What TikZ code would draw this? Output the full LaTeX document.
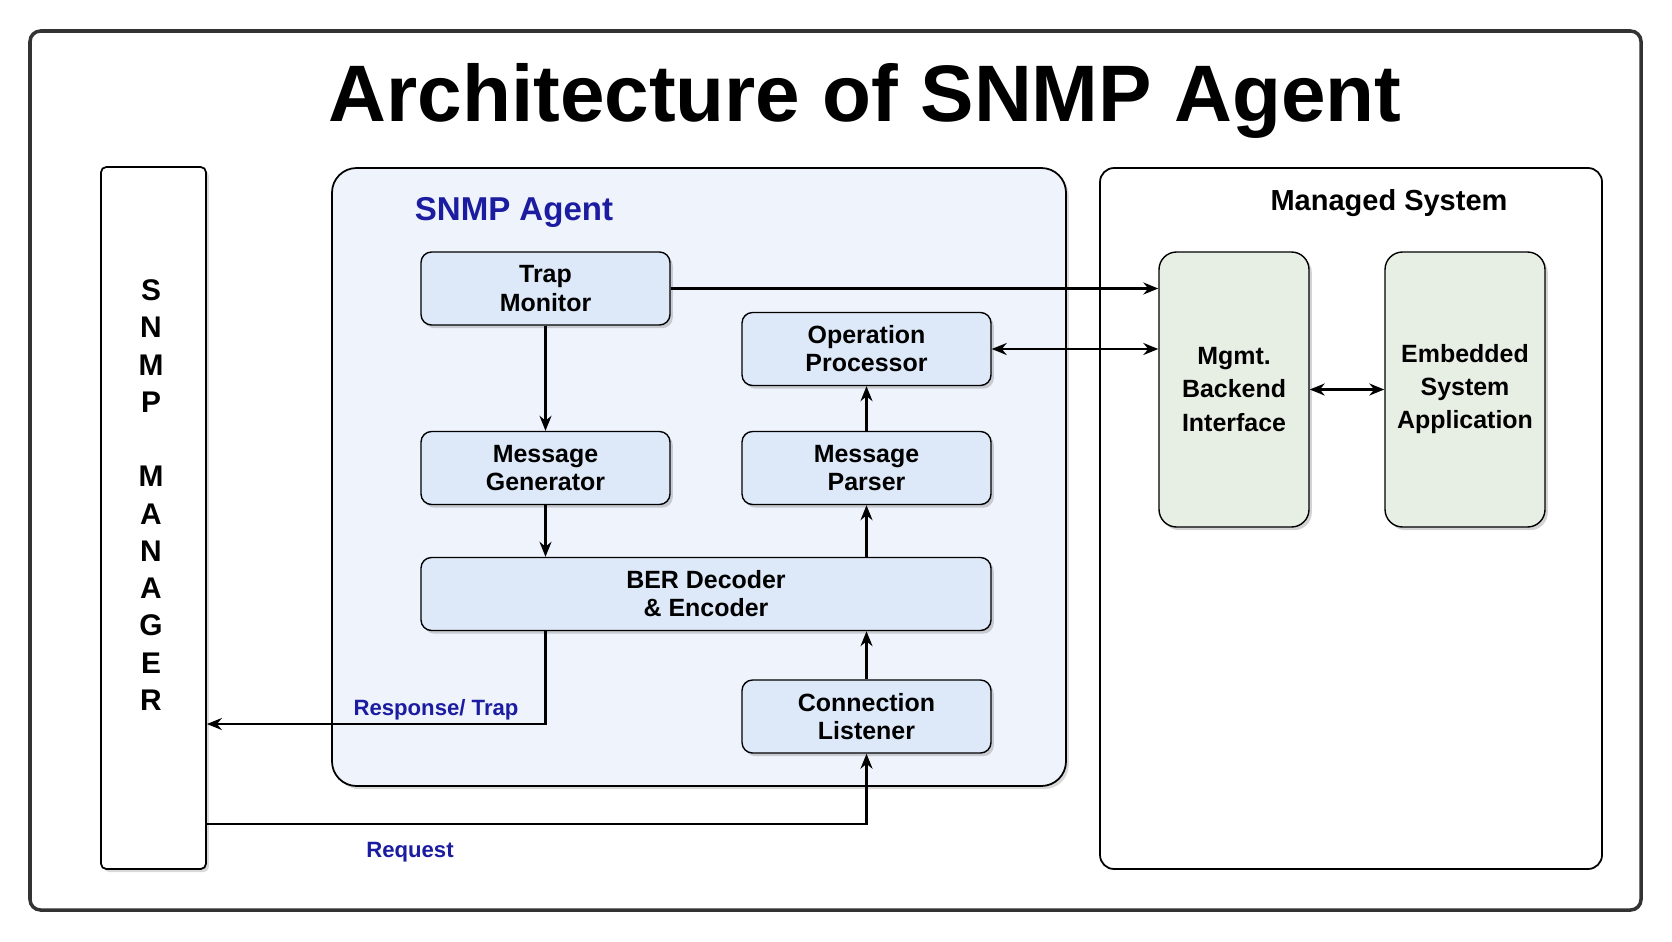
\documentclass[tikz,border=0pt]{standalone}
\usepackage{fontspec}
\setmainfont{Liberation Sans}
\usepackage{xcolor}
\usetikzlibrary{arrows.meta,positioning,shadows}

\definecolor{agentbg}{HTML}{EEF3FC}
\definecolor{boxbg}{HTML}{DDE9F9}
\definecolor{sysbg}{HTML}{E7EFE5}
\definecolor{labelblue}{HTML}{1C1CA0}

\begin{document}
\begin{tikzpicture}[
  box/.style={rectangle, draw, rounded corners=3pt, fill=boxbg, minimum width=2.49cm, minimum height=0.73cm, align=center,
    font=\fontsize{7.1}{8}\selectfont\bfseries, drop shadow={shadow xshift=0.8pt, shadow yshift=-0.9pt, opacity=0.35}},
  sysbox/.style={rectangle, draw, rounded corners=5pt, fill=sysbg, minimum height=2.75cm, align=center,
    font=\fontsize{7.1}{9.4}\selectfont\bfseries, drop shadow={shadow xshift=0.8pt, shadow yshift=-0.9pt, opacity=0.35}},
  group/.style={rectangle, draw, line width=0.5pt},
  flowlabel/.style={text=labelblue, font=\fontsize{6.3}{7}\selectfont\bfseries},
  arrow/.style={-{Stealth[length=1.5mm, width=1.2mm]}, line width=0.6pt},
  biarrow/.style={{Stealth[length=1.5mm, width=1.2mm]}-{Stealth[length=1.5mm, width=1.2mm]}, line width=0.6pt}
]
\useasboundingbox (0,0) rectangle (16.72,-9.41);

% Frame and title
\node[rectangle, draw=black!80, line width=1pt, rounded corners=3pt, minimum width=16.11cm, minimum height=8.79cm] (frame) at (8.355,-4.705) {};
\node[font=\fontsize{22.8}{26}\selectfont\bfseries] (title) at (8.65,-1.01) {Architecture of SNMP Agent};

% SNMP manager
\node[group, fill=white, rounded corners=1.5pt, minimum width=1.05cm, minimum height=7.02cm,
  drop shadow={shadow xshift=0.8pt, shadow yshift=-0.9pt, opacity=0.3}] (mgr) at (1.535,-5.18) {};
\node[align=center, font=\fontsize{8.5}{10.6}\selectfont\bfseries] (mgrtext) at (1.51,-4.95) {S\\N\\M\\P\\[10.6pt]M\\A\\N\\A\\G\\E\\R};

% SNMP agent
\node[group, fill=agentbg, rounded corners=7pt, minimum width=7.34cm, minimum height=6.18cm,
  drop shadow={shadow xshift=0.8pt, shadow yshift=-0.9pt, opacity=0.3}] (agent) at (6.99,-4.77) {};
\node[text=labelblue, font=\fontsize{9.4}{11}\selectfont\bfseries] (agenttitle) at (5.14,-2.12) {SNMP Agent};

\node[box] (trap) at (5.455,-2.885) {Trap\\Monitor};
\node[box] (op) at (8.665,-3.49) {Operation\\Processor};
\node[box] (gen) at (5.455,-4.68) {Message\\Generator};
\node[box] (parser) at (8.665,-4.68) {Message\\Parser};
\node[box, minimum width=5.70cm] (ber) at (7.06,-5.94) {BER Decoder\\\& Encoder};
\node[box] (listener) at (8.665,-7.165) {Connection\\Listener};

% Managed system
\node[group, rounded corners=4pt, minimum width=5.02cm, minimum height=7.01cm] (managed) at (13.51,-5.185) {};
\node[font=\fontsize{8.25}{10}\selectfont\bfseries] (managedtitle) at (13.89,-2.03) {Managed System};

\node[sysbox, minimum width=1.5cm] (mgmt) at (12.34,-3.895) {Mgmt.\\Backend\\Interface};
\node[sysbox, minimum width=1.6cm] (emb) at (14.65,-3.895) {Embedded\\System\\Application};

% Arrows
\draw[arrow] (trap.east) -- (trap.east -| mgmt.west);
\draw[biarrow] (op.east) -- (op.east -| mgmt.west);
\draw[biarrow] (mgmt) -- (emb);
\draw[arrow] (trap) -- (gen);
\draw[arrow] (gen) -- (gen.south |- ber.north);
\draw[arrow] (ber.north -| parser) -- (parser);
\draw[arrow] (parser) -- (op);
\draw[arrow] (listener) -- (listener.north |- ber.south);

\coordinate (resp) at (2.06,-7.24);
\coordinate (req) at (2.06,-8.24);
\draw[arrow] (ber.south -| gen) |- (mgr.east |- resp);
\draw[arrow] (mgr.east |- req) -| (listener.south);

\node[flowlabel] (resplabel) at (4.36,-7.10) {Response/ Trap};
\node[flowlabel] (reqlabel) at (4.10,-8.52) {Request};

\end{tikzpicture}
\end{document}
